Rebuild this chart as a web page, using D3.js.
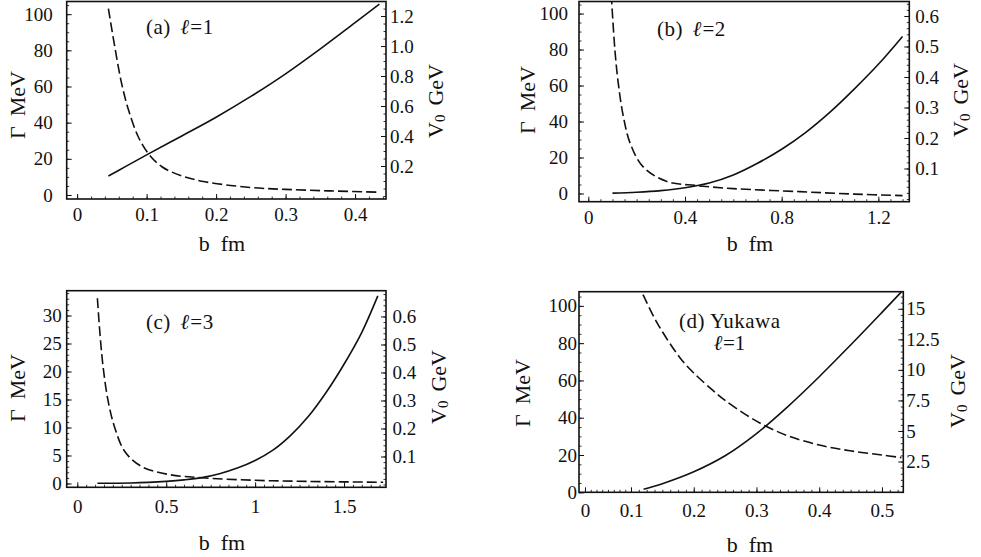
<!DOCTYPE html>
<html>
<head>
<meta charset="utf-8">
<script src="https://cdn.jsdelivr.net/npm/d3@7"></script>
<style>
  body { margin: 0; background: #fff; }
  svg { display: block; }
  text { font-family: "Liberation Serif", "Times New Roman", serif; fill: #111; }
</style>
</head>
<body>
<svg id="fig" width="981" height="557"></svg>
<script>
// ─── DATA ─────────────────────────────────────────────────────────────────────
// solid line = Γ (MeV, left axis), dashed line = V0 (GeV, right axis), vs b (fm)

// (a) l = 1
const aGammaB  = [0.045, 0.07, 0.1, 0.15, 0.2, 0.25, 0.3, 0.35, 0.4, 0.435];
const aGamma   = [10.5, 15.8, 22.2, 32.5, 43, 54.5, 67, 80.8, 95.3, 105.5];
const aV0B     = [0.045, 0.055, 0.064, 0.074, 0.088, 0.103, 0.122, 0.15, 0.184, 0.249, 0.3, 0.364, 0.435];
const aV0      = [1.25, 0.973, 0.751, 0.573, 0.395, 0.28, 0.195, 0.135, 0.095, 0.057, 0.044, 0.034, 0.025];

// (b) l = 2
const bGammaB  = [0.1, 0.2, 0.3, 0.4, 0.5, 0.6, 0.7, 0.8, 0.9, 1.0, 1.1, 1.2, 1.3];
const bGamma   = [0.2, 0.7, 1.6, 3.2, 5.8, 10.3, 16.8, 24.6, 34, 45.2, 58, 71.8, 87.3];
const bV0B     = [0.095, 0.11, 0.124, 0.145, 0.173, 0.226, 0.323, 0.448, 0.6, 0.876, 1.1, 1.3];
const bV0      = [0.67, 0.489, 0.379, 0.27, 0.183, 0.106, 0.058, 0.044, 0.034, 0.024, 0.016, 0.011];

// (c) l = 3
const cGammaB  = [0.113, 0.3, 0.4, 0.5, 0.6, 0.7, 0.8, 0.9, 1.0, 1.1, 1.2, 1.3, 1.4, 1.5, 1.6, 1.69];
const cGamma   = [0.05, 0.1, 0.2, 0.38, 0.65, 1.05, 1.75, 2.75, 4.1, 5.95, 8.6, 12.0, 16.3, 21.3, 27.0, 33.5];
const cV0B     = [0.113, 0.128, 0.146, 0.174, 0.212, 0.268, 0.362, 0.512, 0.7, 1.0, 1.3, 1.72];
const cV0      = [0.665, 0.534, 0.415, 0.296, 0.2, 0.117, 0.064, 0.036, 0.024, 0.015, 0.011, 0.008];

// (d) Yukawa, l = 1
const dGammaB  = [0.12, 0.15, 0.2, 0.25, 0.3, 0.35, 0.4, 0.45, 0.5, 0.531];
const dGamma   = [1.6, 4.6, 11.0, 19.6, 31.5, 46.0, 62.0, 79.0, 96.5, 107.5];
const dV0B     = [0.11, 0.14, 0.178, 0.2, 0.231, 0.25, 0.284, 0.313, 0.35, 0.4, 0.449, 0.5, 0.531];
const dV0      = [17.2, 14.0, 11.0, 9.75, 8.3, 7.5, 6.3, 5.45, 4.6, 3.85, 3.38, 3.03, 2.82];

// tick values and labels
const aXTicks = [0, 0.1, 0.2, 0.3, 0.4];
const aXLabels = ['0', '0.1', '0.2', '0.3', '0.4'];
const bXTicks = [0, 0.4, 0.8, 1.2];
const bXLabels = ['0', '0.4', '0.8', '1.2'];
const cXTicks = [0, 0.5, 1, 1.5];
const cXLabels = ['0', '0.5', '1', '1.5'];
const dXTicks = [0, 0.1, 0.2, 0.3, 0.4, 0.5];
const dXLabels = ['0', '0.1', '0.2', '0.3', '0.4', '0.5'];

const gammaTicks100 = [0, 20, 40, 60, 80, 100];
const gammaLabels100 = ['0', '20', '40', '60', '80', '100'];
const cGammaTicks = [0, 5, 10, 15, 20, 25, 30];
const cGammaLabels = ['0', '5', '10', '15', '20', '25', '30'];

const aVTicks = [0.2, 0.4, 0.6, 0.8, 1.0, 1.2];
const aVLabels = ['0.2', '0.4', '0.6', '0.8', '1.0', '1.2'];
const bcVTicks = [0.1, 0.2, 0.3, 0.4, 0.5, 0.6];
const bcVLabels = ['0.1', '0.2', '0.3', '0.4', '0.5', '0.6'];
const dVTicks = [2.5, 5, 7.5, 10, 12.5, 15];
const dVLabels = ['2.5', '5', '7.5', '10', '12.5', '15'];

const panelTags = ['(a)', '(b)', '(c)', '(d) Yukawa'];
const panelL = ['1', '2', '3', '1'];

// ─── LAYOUT ───────────────────────────────────────────────────────────────────
const panels = [
  {
    frame: { left: 66.7, right: 386, top: 1.5, bottom: 199 },
    xDomain: [-0.015, 0.4445], gDomain: [-2.22, 107.0], vDomain: [-0.02, 1.297],
    xTicks: aXTicks, xLabels: aXLabels, xMinor: d3.range(0, 0.445, 0.02),
    gTicks: gammaTicks100, gLabels: gammaLabels100, gMinor: d3.range(0, 107, 5),
    vTicks: aVTicks, vLabels: aVLabels, vMinor: d3.range(0, 1.3, 0.05),
    gamma: [aGammaB, aGamma], v0: [aV0B, aV0],
    padX: 9, padG: 14, padV: 4,
    gTitle: [17, 105], vTitle: [435, 101], xTitle: [222, 243],
    tag: [146, 34], lPos: null,
  },
  {
    frame: { left: 579, right: 909.3, top: 1.5, bottom: 201.7 },
    xDomain: [-0.0385, 1.328], gDomain: [-4.56, 106.7], vDomain: [-0.0089, 0.6475],
    xTicks: bXTicks, xLabels: bXLabels, xMinor: d3.range(0, 1.33, 0.05),
    gTicks: gammaTicks100, gLabels: gammaLabels100, gMinor: d3.range(0, 107, 5),
    vTicks: bcVTicks, vLabels: bcVLabels, vMinor: d3.range(0, 0.65, 0.02),
    gamma: [bGammaB, bGamma], v0: [bV0B, bV0],
    padX: 9, padG: 11, padV: 6,
    gTitle: [527, 100], vTitle: [960, 100], xTitle: [750, 243],
    tag: [657, 36], lPos: null,
  },
  {
    frame: { left: 66.7, right: 386, top: 290.7, bottom: 487.3 },
    xDomain: [-0.0596, 1.736], gDomain: [-0.68, 34.43], vDomain: [-0.01, 0.692],
    xTicks: cXTicks, xLabels: cXLabels, xMinor: d3.range(0, 1.74, 0.05),
    gTicks: cGammaTicks, gLabels: cGammaLabels, gMinor: d3.range(0, 34.4, 1),
    vTicks: bcVTicks, vLabels: bcVLabels, vMinor: d3.range(0, 0.69, 0.02),
    gamma: [cGammaB, cGamma], v0: [cV0B, cV0],
    padX: 12, padG: 5, padV: 6.5,
    gTitle: [17, 388], vTitle: [438, 387], xTitle: [222, 542],
    tag: [146, 329], lPos: null,
  },
  {
    frame: { left: 579, right: 903.3, top: 291.7, bottom: 492.3 },
    // the 0 label sits closer to 0.1 than the other spacings, so a 3-piece domain
    xDomain: [-0.013, 0.1, 0.534], gDomain: [0, 107.6], vDomain: [-0.02, 16.4],
    xTicks: dXTicks, xLabels: dXLabels, xMinor: d3.range(0, 0.535, 0.0125),
    gTicks: gammaTicks100, gLabels: gammaLabels100, gMinor: d3.range(0, 107, 5),
    vTicks: dVTicks, vLabels: dVLabels, vMinor: d3.range(0, 16.4, 0.5),
    gamma: [dGammaB, dGamma], v0: [dV0B, dV0],
    padX: 11, padG: 2, padV: 3,
    gTitle: [522, 393], vTitle: [957, 391], xTitle: [750, 544],
    tag: [679, 328], lPos: [714, 350],
  },
];

const svg = d3.select('#fig');
const tickFont = 19;
const titleFont = 22;
const tagFont = 21;

function styleAxis(sel, labels, ticks) {
  sel.select('.domain').remove();
  sel.attr('font-family', null).attr('font-size', null);
  sel.selectAll('.tick line').attr('stroke', '#111').attr('stroke-width', 1);
  sel.selectAll('.tick text')
    .attr('font-size', tickFont)
    .text((d) => labels[ticks.indexOf(d)]);
}

function drawPanel(p, i) {
  const f = p.frame;
  const g = svg.append('g');

  const x = d3.scaleLinear().domain(p.xDomain)
    .range(p.xDomain.length === 3 ? [f.left, 631, f.right] : [f.left, f.right]);
  const yG = d3.scaleLinear().domain(p.gDomain).range([f.bottom, f.top]);
  const yV = d3.scaleLinear().domain(p.vDomain).range([f.bottom, f.top]);

  // minor ticks
  const minor = (ax) => ax.tickFormat('').tickSizeOuter(0);
  const clean = (s) => { s.select('.domain').remove(); s.selectAll('line').attr('stroke', '#333'); };
  g.append('g').attr('transform', `translate(0,${f.bottom})`)
    .call(minor(d3.axisBottom(x).tickValues(p.xMinor).tickSizeInner(-2.5))).call(clean);
  g.append('g').attr('transform', `translate(${f.left},0)`)
    .call(minor(d3.axisLeft(yG).tickValues(p.gMinor).tickSizeInner(-2.5))).call(clean);
  g.append('g').attr('transform', `translate(${f.right},0)`)
    .call(minor(d3.axisRight(yV).tickValues(p.vMinor).tickSizeInner(-2.5))).call(clean);

  // major ticks + labels
  g.append('g').attr('transform', `translate(0,${f.bottom})`)
    .call(d3.axisBottom(x).tickValues(p.xTicks).tickSizeInner(-5).tickSizeOuter(0).tickPadding(p.padX))
    .call((s) => styleAxis(s, p.xLabels, p.xTicks));
  g.append('g').attr('transform', `translate(${f.left},0)`)
    .call(d3.axisLeft(yG).tickValues(p.gTicks).tickSizeInner(-5).tickSizeOuter(0).tickPadding(p.padG))
    .call((s) => styleAxis(s, p.gLabels, p.gTicks));
  g.append('g').attr('transform', `translate(${f.right},0)`)
    .call(d3.axisRight(yV).tickValues(p.vTicks).tickSizeInner(-5).tickSizeOuter(0).tickPadding(p.padV))
    .call((s) => styleAxis(s, p.vLabels, p.vTicks));

  // curves, clipped to the frame
  const clipId = `clip${i}`;
  svg.append('clipPath').attr('id', clipId).append('rect')
    .attr('x', f.left).attr('y', f.top)
    .attr('width', f.right - f.left).attr('height', f.bottom - f.top);
  const plot = g.append('g').attr('clip-path', `url(#${clipId})`);

  const gammaPts = p.gamma[0].map((b, k) => [b, p.gamma[1][k]]);
  const v0Pts = p.v0[0].map((b, k) => [b, p.v0[1][k]]);
  const smooth = d3.curveCatmullRom.alpha(0.5);

  plot.append('path')
    .datum(gammaPts)
    .attr('fill', 'none').attr('stroke', '#111').attr('stroke-width', 1.6)
    .attr('d', d3.line().x((d) => x(d[0])).y((d) => yG(d[1])).curve(smooth));
  plot.append('path')
    .datum(v0Pts)
    .attr('fill', 'none').attr('stroke', '#111').attr('stroke-width', 1.6)
    .attr('stroke-dasharray', '10,4')
    .attr('d', d3.line().x((d) => x(d[0])).y((d) => yV(d[1])).curve(smooth));

  // frame
  g.append('rect')
    .attr('x', f.left).attr('y', f.top)
    .attr('width', f.right - f.left).attr('height', f.bottom - f.top)
    .attr('fill', 'none').attr('stroke', '#111').attr('stroke-width', 1.6);

  // axis titles
  const gt = g.append('text')
    .attr('transform', `translate(${p.gTitle[0]},${p.gTitle[1]}) rotate(-90)`)
    .attr('text-anchor', 'middle').attr('dominant-baseline', 'central')
    .attr('font-size', titleFont);
  gt.append('tspan').text('\u0393');
  gt.append('tspan').attr('dx', 10).text('MeV');

  const vt = g.append('text')
    .attr('transform', `translate(${p.vTitle[0]},${p.vTitle[1]}) rotate(-90)`)
    .attr('text-anchor', 'middle').attr('dominant-baseline', 'central')
    .attr('font-size', titleFont);
  vt.append('tspan').text('V');
  vt.append('tspan').attr('dy', 5).attr('font-size', 15).text('0');
  vt.append('tspan').attr('dy', -5).attr('dx', 9).text('GeV');

  const xt = g.append('text')
    .attr('x', p.xTitle[0]).attr('y', p.xTitle[1])
    .attr('text-anchor', 'middle').attr('dominant-baseline', 'central')
    .attr('font-size', titleFont);
  xt.append('tspan').text('b');
  xt.append('tspan').attr('dx', 11).text('fm');

  // panel tag
  const tag = g.append('text')
    .attr('x', p.tag[0]).attr('y', p.tag[1])
    .attr('font-size', tagFont).attr('letter-spacing', 0.5);
  tag.append('tspan').text(panelTags[i]);
  const host = p.lPos
    ? g.append('text').attr('x', p.lPos[0]).attr('y', p.lPos[1]).attr('font-size', tagFont)
    : tag;
  host.append('tspan').attr('dx', p.lPos ? 0 : 10)
    .attr('font-style', 'italic').attr('font-weight', 'bold').text('\u2113');
  host.append('tspan').text('=' + panelL[i]);
}

panels.forEach(drawPanel);
</script>
</body>
</html>
